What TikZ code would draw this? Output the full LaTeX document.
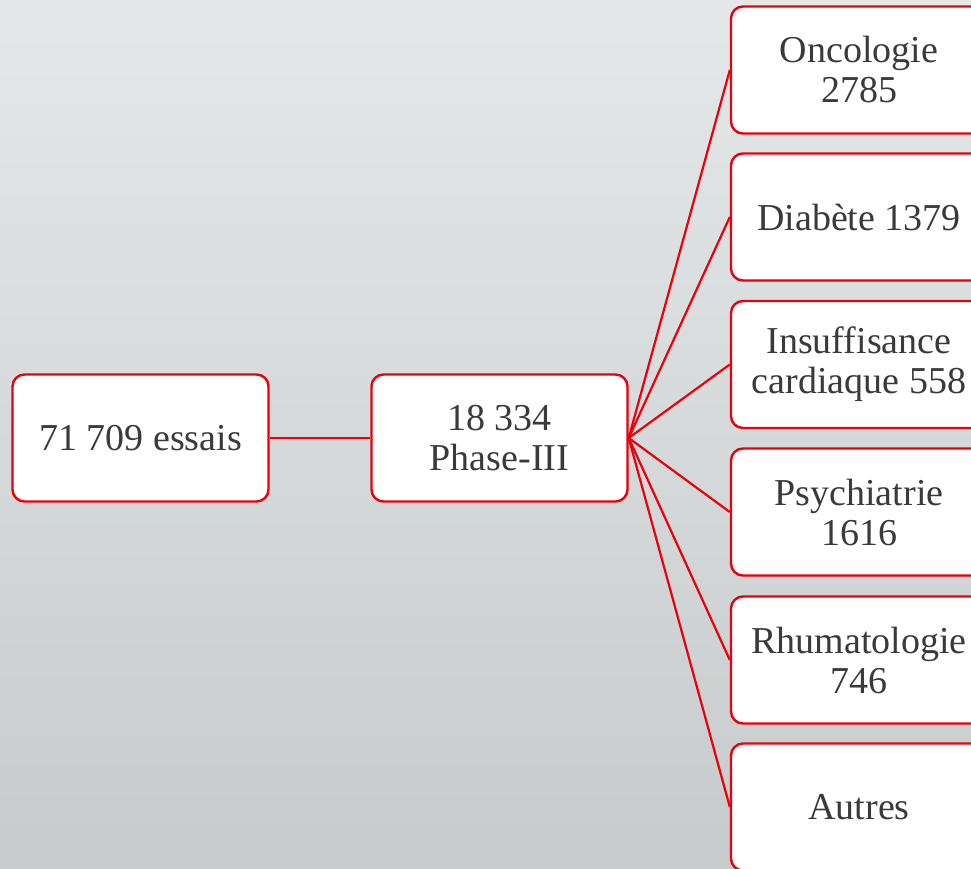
\documentclass[tikz,border=0pt]{standalone}
\usepackage{fontspec}
\setmainfont{Liberation Serif}
\definecolor{bgtop}{RGB}{229,232,233}
\definecolor{bgbot}{RGB}{199,203,204}
\definecolor{redline}{RGB}{232,0,12}
\definecolor{txt}{RGB}{58,58,58}
\tikzset{
  boxnode/.style={rectangle, rounded corners=12pt, draw=redline, line width=2.4pt, fill=white,
    minimum width=256pt, minimum height=127pt, align=center, text=txt,
    font=\fontsize{38}{40}\selectfont, inner sep=0pt},
  conn/.style={draw=redline, line width=2.2pt}
}
\begin{document}
\begin{tikzpicture}[x=1pt,y=-1pt]
\useasboundingbox (0,0) rectangle (971,869);
\clip (0,0) rectangle (971,869);
\shade[top color=bgtop, bottom color=bgbot] (0,0) rectangle (971,869);
\node[boxnode] (a) at (140.5,438) {71 709 essais};
\node[boxnode] (b) at (499.5,438) {18 334\\Phase-III};
\node[boxnode] (c1) at (859,70) {Oncologie\\2785};
\node[boxnode] (c2) at (859,217) {Diabète 1379};
\node[boxnode] (c3) at (859,364.5) {Insuffisance\\cardiaque 558};
\node[boxnode] (c4) at (859,512) {Psychiatrie\\1616};
\node[boxnode] (c5) at (859,660) {Rhumatologie\\746};
\node[boxnode] (c6) at (859,807) {Autres};
\draw[conn] (a.east) -- (b.west);
\foreach \i in {1,...,6} {\draw[conn] (b.east) -- (c\i.west);}
\end{tikzpicture}
\end{document}
